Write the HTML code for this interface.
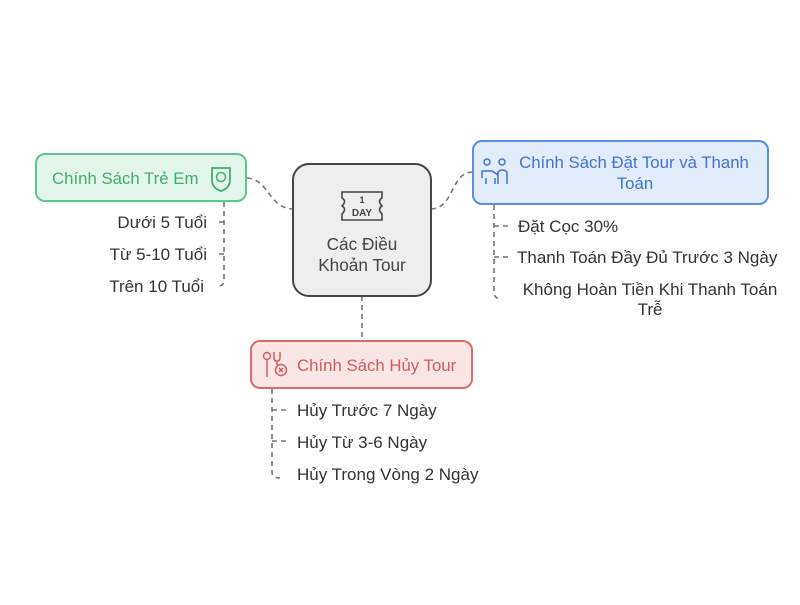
<!DOCTYPE html>
<html><head><meta charset="utf-8"><style>
html,body{margin:0;padding:0;background:#fff;}
svg text{font-family:"Liberation Sans","DejaVu Sans",sans-serif;}
</style></head><body>
<svg width="800" height="600" viewBox="0 0 800 600" xmlns="http://www.w3.org/2000/svg">
<g fill="none" stroke="#777" stroke-width="1.6" stroke-dasharray="5,4">
<path d="M247 178 C 270 180, 268 208, 293 209"/>
<path d="M431 209 C 455 208, 450 172, 473 172"/>
<path d="M362 296 L362 341"/>
<path d="M224 202 L224 280 Q224 286 218 286"/>
<path d="M224 222 L218 222"/><path d="M224 254 L217 254"/>
<path d="M494 205 L494 292 Q494 299 502 299"/>
<path d="M494 226 L508 226"/><path d="M494 257 L508 257"/>
<path d="M272 389 L272 472 Q272 478 280 478"/>
<path d="M272 410 L288 410"/><path d="M272 441 L288 441"/>
</g>
<rect x="36" y="154" width="210" height="47" rx="9" fill="#e4f6ec" stroke="#5ec48b" stroke-width="2"/>
<text x="52" y="184" font-size="16.8" fill="#3fae6e">Chính Sách Trẻ Em</text>
<path d="M212 168 h18 v12 q0 8 -9 11 q-9 -3 -9 -11z" fill="none" stroke="#3fae6e" stroke-width="1.8"/>
<circle cx="221" cy="177" r="4.5" fill="none" stroke="#3fae6e" stroke-width="1.5"/>
<rect x="293" y="164" width="138" height="132" rx="16" fill="#eeeeee" stroke="#444" stroke-width="2"/>
<path d="M342 192 h40 v6 q-5 3 0 8 q-5 3 0 8 v6 h-40 v-6 q5 -5 0 -8 q5 -5 0 -8z" fill="none" stroke="#444" stroke-width="1.6"/>
<text x="362" y="203" font-size="9" font-weight="bold" text-anchor="middle" fill="#444" font-family="Liberation Mono">1</text>
<text x="362" y="216" font-size="10" font-weight="bold" text-anchor="middle" fill="#444" font-family="Liberation Mono">DAY</text>
<text x="362" y="250" font-size="17.2" text-anchor="middle" fill="#444">Các Điều</text>
<text x="362" y="271" font-size="17.2" text-anchor="middle" fill="#444">Khoản Tour</text>
<rect x="473" y="141" width="295" height="63" rx="9" fill="#e3ecfb" stroke="#5a8de0" stroke-width="2"/>
<g fill="none" stroke="#3f74d6" stroke-width="1.5"><circle cx="487" cy="162" r="3"/><circle cx="502" cy="162" r="3"/><path d="M482 178 v-7 h10 l6 4 M498 184 v-12 q4 -4 9 0 v12 M486 178 v6 M495 178 v6"/></g>
<text x="634" y="168" font-size="16.8" text-anchor="middle" fill="#3f74d6">Chính Sách Đặt Tour và Thanh</text>
<text x="635" y="189" font-size="16.8" text-anchor="middle" fill="#3f74d6">Toán</text>
<rect x="251" y="341" width="221" height="47" rx="9" fill="#fbe6e6" stroke="#e06a6a" stroke-width="2"/>
<g fill="none" stroke="#d55a5a" stroke-width="1.5"><circle cx="267" cy="356" r="3.5"/><path d="M267 360 v17 M274 352 v6 q0 3 3 3 q3 0 3 -3 v-6 M277 361 v4"/><circle cx="281" cy="370" r="5.5"/><path d="M279 368 l4 4 M283 368 l-4 4"/></g>
<text x="297" y="371" font-size="16.8" fill="#d55a5a">Chính Sách Hủy Tour</text>
<g font-size="17" fill="#333">
<text x="207" y="228" text-anchor="end">Dưới 5 Tuổi</text>
<text x="207" y="260" text-anchor="end">Từ 5-10 Tuổi</text>
<text x="204" y="292" text-anchor="end">Trên 10 Tuổi</text>
<text x="518" y="232">Đặt Cọc 30%</text>
<text x="517" y="263">Thanh Toán Đầy Đủ Trước 3 Ngày</text>
<text x="650" y="295" text-anchor="middle">Không Hoàn Tiền Khi Thanh Toán</text>
<text x="650" y="315" text-anchor="middle">Trễ</text>
<text x="297" y="416">Hủy Trước 7 Ngày</text>
<text x="297" y="448">Hủy Từ 3-6 Ngày</text>
<text x="297" y="480">Hủy Trong Vòng 2 Ngày</text>
</g>
</svg>
</body></html>
